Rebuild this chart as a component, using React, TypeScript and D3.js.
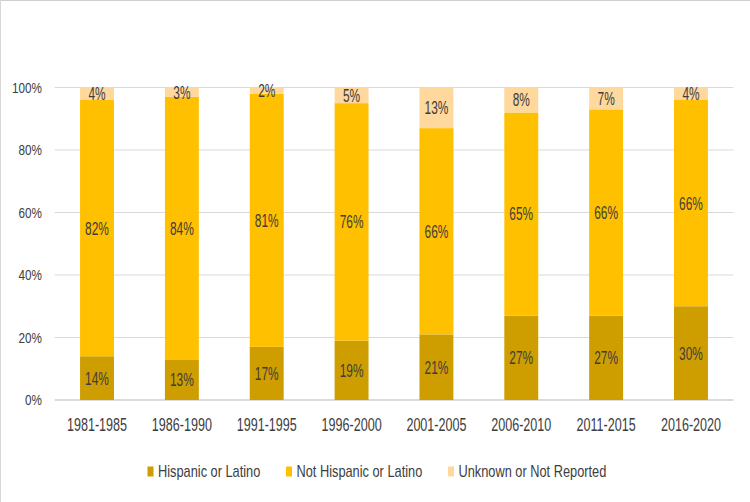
import React from "react";
import * as d3 from "d3";

const categories = ["1981-1985", "1986-1990", "1991-1995", "1996-2000", "2001-2005", "2006-2010", "2011-2015", "2016-2020"];
const hispanic = [14, 13, 17, 19, 21, 27, 27, 30];
const notHispanic = [82, 84, 81, 76, 66, 65, 66, 66];
const unknown = [4, 3, 2, 5, 13, 8, 7, 4];
const seriesNames = ["Hispanic or Latino", "Not Hispanic or Latino", "Unknown or Not Reported"];
const seriesColors = ["#CE9E00", "#FFC000", "#FFD89E"];
const yTicks = [0, 20, 40, 60, 80, 100];

const W = 750, H = 502;
const FONT = "'Liberation Sans', Arial, sans-serif";
const TXT = "#3d3d3d";

function SText({ x, y, size, anchor, sx, children }: any) {
  return (
    <text
      transform={`translate(${x},${y}) scale(${sx},1)`}
      fontFamily={FONT}
      fontSize={size}
      fill={TXT}
      textAnchor={anchor}
      dominantBaseline="central"
    >
      {children}
    </text>
  );
}

export default function App() {
  const x = d3.scaleBand<string>().domain(categories).range([54.6, 733.4]).paddingInner(0.6).paddingOuter(0.3);
  const y = d3.scaleLinear().domain([0, 100]).range([400, 87.5]);
  const data = categories.map((c, i) => ({ cat: c, h: hispanic[i], n: notHispanic[i], u: unknown[i] }));
  const stack = d3.stack<any>().keys(["h", "n", "u"])(data);

  const legendItems = [
    { name: seriesNames[0], color: seriesColors[0], x: 147.5 },
    { name: seriesNames[1], color: seriesColors[1], x: 286 },
    { name: seriesNames[2], color: seriesColors[2], x: 448 },
  ];

  return (
    <div style={{ position: "absolute", left: 0, top: 0 }}>
      <svg width={W} height={H} style={{ display: "block", background: "#fff" }}>
        <line x1={0} x2={W} y1={0.5} y2={0.5} stroke="#d0d0d0" />
        <line x1={0.5} x2={0.5} y1={0} y2={H} stroke="#d8d8d8" />
        {yTicks.map((t) => (
          <g key={t}>
            <line x1={54.6} x2={733.4} y1={y(t)} y2={y(t)} stroke={t === 0 ? "#cfcfcf" : "#d9d9d9"} strokeWidth={t === 0 ? 1.5 : 1} />
            <SText x={42} y={y(t)} size={15} sx={0.78} anchor="end">{t + "%"}</SText>
          </g>
        ))}
        {stack.map((s, si) => (
          <g key={si}>
            {s.map((d: any, i: number) => (
              <rect
                key={i}
                x={x(categories[i])}
                width={x.bandwidth()}
                y={y(d[1])}
                height={y(d[0]) - y(d[1])}
                fill={seriesColors[si]}
              />
            ))}
            {s.map((d: any, i: number) => (
              <SText key={"l" + i} x={(x(categories[i]) as number) + x.bandwidth() / 2} y={(y(d[0]) + y(d[1])) / 2} size={17.5} sx={0.68} anchor="middle">
                {d[1] - d[0] + "%"}
              </SText>
            ))}
          </g>
        ))}
        {categories.map((c) => (
          <SText key={c} x={(x(c) as number) + x.bandwidth() / 2} y={425} size={18.5} sx={0.68} anchor="middle">{c}</SText>
        ))}
        {legendItems.map((l) => (
          <g key={l.name}>
            <rect x={l.x} y={466.5} width={6} height={10} fill={l.color} />
            <SText x={l.x + 10.5} y={471.5} size={16} sx={0.8} anchor="start">{l.name}</SText>
          </g>
        ))}
      </svg>
    </div>
  );
}
